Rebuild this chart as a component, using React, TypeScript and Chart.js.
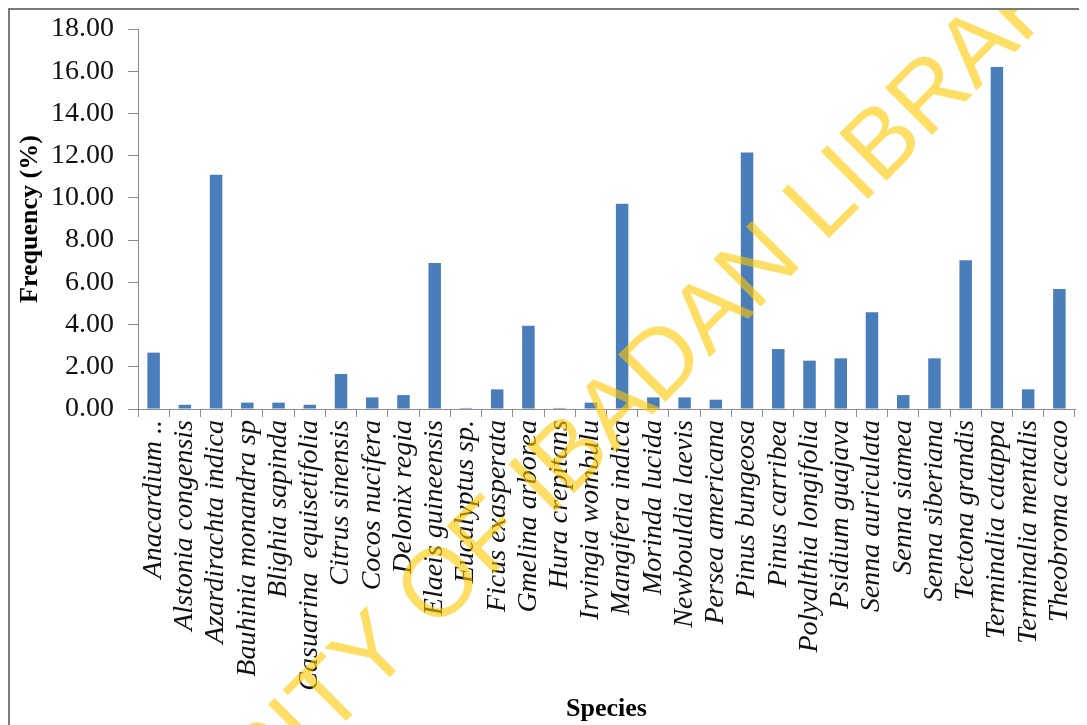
import React, { useEffect, useRef } from "react";
import { Chart, registerables } from "chart.js";

Chart.register(...registerables);

const species: string[] = [
  "Anacardium ..",
  "Alstonia congensis",
  "Azardirachta indica",
  "Bauhinia monandra sp",
  "Blighia sapinda",
  "Casuarina  equisetifolia",
  "Citrus sinensis",
  "Cocos nucifera",
  "Delonix regia",
  "Elaeis guineensis",
  "Eucalyptus sp.",
  "Ficus exasperata",
  "Gmelina arborea",
  "Hura crepitans",
  "Irvingia wombulu",
  "Mangifera indica",
  "Morinda lucida",
  "Newbouldia laevis",
  "Persea americana",
  "Pinus bungeosa",
  "Pinus carribea",
  "Polyalthia longifolia",
  "Psidium guajava",
  "Senna auriculata",
  "Senna siamea",
  "Senna siberiana",
  "Tectona grandis",
  "Terminalia catappa",
  "Terminalia mentalis",
  "Theobroma cacao",
];

const frequency: number[] = [
  2.67, 0.2, 11.1, 0.3, 0.3, 0.2, 1.66, 0.55, 0.66, 6.92,
  0.05, 0.93, 3.94, 0.05, 0.3, 9.72, 0.55, 0.55, 0.44, 12.15,
  2.84, 2.29, 2.4, 4.58, 0.66, 2.4, 7.05, 16.2, 0.93, 5.69,
];

const yTicks: number[] = [0, 2, 4, 6, 8, 10, 12, 14, 16, 18];

const yTitle = "Frequency (%)";
const xTitle = "Species";
const watermark = "UNIVERSITY OF IBADAN LIBRARY";

const SERIF = "'Liberation Serif', 'Times New Roman', serif";
const AXIS_COLOR = "#8c8c8c";

const watermarkPlugin = {
  id: "watermark",
  afterDraw(chart: any) {
    const ctx = chart.ctx as CanvasRenderingContext2D;
    ctx.save();
    ctx.translate(550, 497);
    ctx.rotate(-Math.PI / 4);
    ctx.font = "97px 'Liberation Sans', Arial, sans-serif";
    ctx.textAlign = "center";
    ctx.textBaseline = "alphabetic";
    ctx.fillStyle = "rgba(255, 200, 0, 0.6)";
    ctx.fillText(watermark, 0, 0);
    ctx.restore();
  },
};

export default function App() {
  const canvasRef = useRef<HTMLCanvasElement | null>(null);

  useEffect(() => {
    if (!canvasRef.current) return;
    const chart = new Chart(canvasRef.current, {
      type: "bar",
      data: {
        labels: species,
        datasets: [
          {
            label: "Frequency",
            data: frequency,
            backgroundColor: "#4a7ebb",
            borderWidth: 0,
            categoryPercentage: 1,
            barPercentage: 0.4,
          },
        ],
      },
      options: {
        animation: false,
        responsive: false,
        devicePixelRatio: 1,
        layout: { padding: { top: 19, right: 12, bottom: 0, left: 0 } },
        plugins: {
          legend: { display: false },
          tooltip: { enabled: false },
        },
        scales: {
          x: {
            type: "category",
            afterFit: (scale: any) => {
              scale.height = 316;
              scale.paddingLeft = 0;
              scale.paddingRight = 0;
            },
            grid: {
              display: true,
              drawOnChartArea: false,
              drawTicks: true,
              tickLength: 8,
              color: AXIS_COLOR,
              offset: true,
            },
            border: { display: true, color: AXIS_COLOR, width: 1 },
            ticks: {
              autoSkip: false,
              maxRotation: 90,
              minRotation: 90,
              padding: 3,
              color: "#111",
              font: { family: SERIF, size: 28, style: "italic" },
            },
            title: {
              display: true,
              text: xTitle,
              color: "#000",
              padding: { top: 0, bottom: 0 },
              font: { family: SERIF, size: 26, weight: "bold" },
            },
          },
          y: {
            min: 0,
            max: 18,
            afterFit: (scale: any) => {
              scale.width = 128;
              scale.paddingTop = 0;
              scale.paddingBottom = 0;
            },
            afterBuildTicks: (scale: any) => {
              scale.ticks = yTicks.map((v) => ({ value: v }));
            },
            grid: {
              display: true,
              drawOnChartArea: false,
              drawTicks: true,
              tickLength: 10,
              color: AXIS_COLOR,
            },
            border: { display: true, color: AXIS_COLOR, width: 1 },
            ticks: {
              padding: 14,
              color: "#111",
              font: { family: SERIF, size: 28 },
              callback: (v: any) => Number(v).toFixed(2),
            },
            title: {
              display: true,
              text: yTitle,
              color: "#000",
              padding: { top: 5, bottom: 0 },
              font: { family: SERIF, size: 26, weight: "bold" },
            },
          },
        },
      },
      plugins: [watermarkPlugin],
    });
    return () => chart.destroy();
  }, []);

  return (
    <div
      style={{
        width: 1079,
        height: 717,
        boxSizing: "border-box",
        borderTop: "2px solid #7a7a7a",
        borderLeft: "2px solid #7a7a7a",
        background: "#fff",
        overflow: "hidden",
      }}
    >
      <canvas
        ref={canvasRef}
        width={1077}
        height={715}
        style={{ display: "block", width: 1077, height: 715 }}
      />
    </div>
  );
}
